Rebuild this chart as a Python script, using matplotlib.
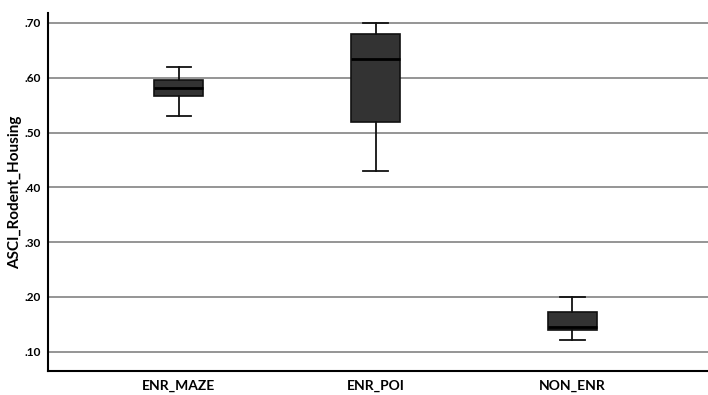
import matplotlib
matplotlib.use("Agg")
import matplotlib.pyplot as plt
from matplotlib.ticker import FuncFormatter

groups = ["ENR_MAZE", "ENR_POI", "NON_ENR"]
whislo = [0.530, 0.430, 0.121]
q1 = [0.566, 0.520, 0.139]
med = [0.581, 0.635, 0.145]
q3 = [0.595, 0.680, 0.172]
whishi = [0.620, 0.700, 0.200]
yticks = [0.10, 0.20, 0.30, 0.40, 0.50, 0.60, 0.70]

plt.rcParams["font.family"] = ["Lato", "DejaVu Sans"]

fig = plt.figure(figsize=(7.08, 3.95), dpi=100)
ax = fig.add_axes([48 / 708, 24 / 395, 660 / 708, 358 / 395])

stats = [
    {"label": g, "whislo": lo, "q1": a, "med": m, "q3": b, "whishi": hi, "fliers": []}
    for g, lo, a, m, b, hi in zip(groups, whislo, q1, med, q3, whishi)
]
ax.bxp(
    stats,
    positions=[1, 2, 3],
    widths=0.25,
    patch_artist=True,
    showfliers=False,
    boxprops={"facecolor": "#333333", "edgecolor": "#111111", "linewidth": 1.2},
    medianprops={"color": "#000000", "linewidth": 2},
    whiskerprops={"color": "#111111", "linewidth": 1.3},
    capprops={"color": "#111111", "linewidth": 1.3},
    capwidths=0.125,
    zorder=3,
)

ax.set_xlim(0.335, 3.69)
ax.set_ylim(0.065, 0.718)
ax.set_yticks(yticks)
ax.yaxis.set_major_formatter(FuncFormatter(lambda v, p: f"{v:.2f}".lstrip("0")))
ax.grid(axis="y", color="#8c8c8c", linewidth=1.3, zorder=0)
ax.set_axisbelow(True)
ax.set_xticks([1, 2, 3])
ax.set_xticklabels(groups, fontsize=10, fontweight="bold")
for lbl in ax.get_yticklabels():
    lbl.set_fontsize(8.5)
    lbl.set_fontweight("bold")
ax.tick_params(axis="both", length=0)
ax.tick_params(axis="x", pad=6)
ax.tick_params(axis="y", pad=5)
ax.set_ylabel("ASCI_Rodent_Housing", fontsize=11, fontweight="bold", labelpad=2)
ax.spines["top"].set_visible(False)
ax.spines["right"].set_visible(False)
ax.spines["left"].set_linewidth(1.5)
ax.spines["bottom"].set_linewidth(1.5)

fig.savefig("out.png", dpi=100)
